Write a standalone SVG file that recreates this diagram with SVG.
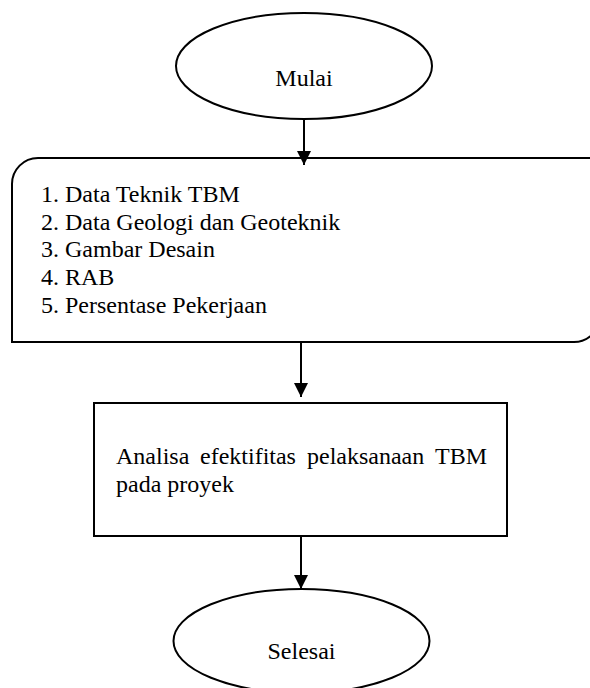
<svg xmlns="http://www.w3.org/2000/svg" width="590" height="688" viewBox="0 0 590 688">
<style>
  .shape { fill: #ffffff; stroke: #000000; stroke-width: 2; }
  .txt { font-family: "Liberation Serif", "Times New Roman", serif; font-size: 24px; fill: #000000; }
  .conn { stroke: #000000; stroke-width: 2; fill: none; }
</style>
<defs>
  <marker id="arrow" markerUnits="userSpaceOnUse" markerWidth="16" markerHeight="16" refX="14" refY="7" orient="auto">
    <path d="M0,0 L14,7 L0,14 Z" fill="#000000"/>
  </marker>
</defs>
<rect width="590" height="688" fill="#ffffff"/>
<g id="node-mulai">
  <ellipse class="shape" cx="304" cy="66" rx="128" ry="53"/>
  <text class="txt" x="304" y="86" text-anchor="middle">Mulai</text>
</g>
<g id="node-data">
  <path class="shape" d="M12,342 V184 A26,26 0 0 1 38,158 H600 V316 A26,26 0 0 1 574,342 Z"/>
  <text class="txt" x="41" y="202">1. Data Teknik TBM</text>
  <text class="txt" x="41" y="229.5">2. Data Geologi dan Geoteknik</text>
  <text class="txt" x="41" y="257">3. Gambar Desain</text>
  <text class="txt" x="41" y="285">4. RAB</text>
  <text class="txt" x="41" y="313">5. Persentase Pekerjaan</text>
</g>
<g id="node-analisa">
  <rect class="shape" x="94" y="403" width="413" height="133"/>
  <text class="txt" y="464"><tspan x="116">Analisa</tspan><tspan x="200">efektifitas</tspan><tspan x="307">pelaksanaan</tspan><tspan x="435">TBM</tspan></text>
  <text class="txt" x="116" y="492">pada proyek</text>
</g>
<g id="node-selesai">
  <ellipse class="shape" cx="301.5" cy="641" rx="128" ry="52"/>
  <text class="txt" x="301.5" y="659" text-anchor="middle">Selesai</text>
</g>
<g id="connectors">
  <line class="conn" x1="304" y1="119" x2="304" y2="165" marker-end="url(#arrow)"/>
  <line class="conn" x1="301" y1="342" x2="301" y2="397" marker-end="url(#arrow)"/>
  <line class="conn" x1="301" y1="536" x2="301" y2="589" marker-end="url(#arrow)"/>
</g>
</svg>
